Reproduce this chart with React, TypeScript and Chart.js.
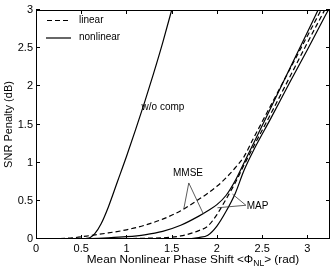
import React, { useEffect, useRef } from 'react';
import { Chart, registerables } from 'chart.js';
Chart.register(...registerables);

// ---- data ----
const xTicks = [0, 0.5, 1, 1.5, 2, 2.5, 3];
const xTickLabels = ['0', '0.5', '1', '1.5', '2', '2.5', '3'];
const yTicks = [0, 0.5, 1, 1.5, 2, 2.5, 3];
const yTickLabels = ['0', '0.5', '1', '1.5', '2', '2.5', '3'];

const woCompX = [0, 0.2, 0.4, 0.5, 0.55, 0.6, 0.65, 0.72, 0.8, 0.9, 1.0, 1.1, 1.2, 1.3, 1.4, 1.5];
const woCompY = [0, 0, 0, 0.003, 0.006, 0.02, 0.07, 0.2, 0.42, 0.75, 1.08, 1.43, 1.79, 2.17, 2.57, 3.0];

const compX = [0, 0.2, 0.4, 0.6, 0.8, 1.0, 1.2, 1.4, 1.6, 1.8, 1.9, 2.0, 2.1, 2.2, 2.3, 2.4, 2.6, 2.8, 3.0, 3.2, 3.3];
const mmseLinear = [0, 0.003, 0.015, 0.045, 0.08, 0.12, 0.18, 0.26, 0.37, 0.52, 0.6, 0.69, 0.8, 0.93, 1.08, 1.31, 1.76, 2.21, 2.66, 3.11, 3.34];
const mmseNonlinear = [0, 0, 0.002, 0.005, 0.015, 0.03, 0.055, 0.1, 0.18, 0.3, 0.37, 0.45, 0.57, 0.76, 1.0, 1.24, 1.73, 2.22, 2.71, 3.2, 3.44];
const mapLinear = [0, 0, 0.002, 0.003, 0.004, 0.005, 0.01, 0.015, 0.04, 0.11, 0.17, 0.32, 0.52, 0.73, 0.97, 1.2, 1.65, 2.11, 2.57, 3.02, 3.25];
const mapNonlinear = [0, 0, 0, 0, 0, 0, 0, 0, 0, 0.02, 0.05, 0.17, 0.36, 0.59, 0.9, 1.15, 1.59, 2.04, 2.48, 2.93, 3.15];

const legendLabels = ['linear', 'nonlinear'];
const yTitle = 'SNR Penalty (dB)';
const xTitleParts = ['Mean Nonlinear Phase Shift <\u03A6', 'NL', '> (rad)'];

// annotations in data coordinates
const woCompLabel = { text: 'w/o comp', x: 1.167, y: 1.73 };
const mmseLabel = { text: 'MMSE', x: 1.68, y: 0.865 };
const mmsePointer = { from: [1.689, 0.734], to: [[1.634, 0.396], [1.851, 0.326]] };
const mapLabel = { text: 'MAP', x: 2.33, y: 0.43 };
const mapPointer = { from: [2.32, 0.442], to: [[2.172, 0.588], [2.006, 0.409]] };

const FONT = '"Liberation Sans", Arial, Helvetica, sans-serif';

const pts = (xs: number[], ys: number[]) => xs.map((x, i) => ({ x, y: ys[i] }));

const decor = {
  id: 'decor',
  afterDatasetsDraw(chart: any) {
    const { ctx, chartArea: a, scales } = chart;
    const sx = scales.x, sy = scales.y;
    ctx.save();
    ctx.strokeStyle = '#000';
    ctx.fillStyle = '#000';
    ctx.lineWidth = 1;
    // box
    ctx.strokeRect(a.left + 0.5, a.top + 0.5, a.right - a.left - 1, a.bottom - a.top - 1);
    // inward ticks
    const tl = 4;
    ctx.beginPath();
    xTicks.forEach((v) => {
      const px = Math.round(sx.getPixelForValue(v)) + 0.5;
      ctx.moveTo(px, a.bottom); ctx.lineTo(px, a.bottom - tl);
      ctx.moveTo(px, a.top); ctx.lineTo(px, a.top + tl);
    });
    yTicks.forEach((v) => {
      const py = Math.round(sy.getPixelForValue(v)) - 0.5;
      ctx.moveTo(a.left, py); ctx.lineTo(a.left + tl, py);
      ctx.moveTo(a.right, py); ctx.lineTo(a.right - tl, py);
    });
    ctx.stroke();

    // legend
    ctx.font = `10px ${FONT}`;
    ctx.textBaseline = 'middle';
    ctx.lineWidth = 1.2;
    ctx.setLineDash([5, 3]);
    ctx.beginPath(); ctx.moveTo(a.left + 11, 20.5); ctx.lineTo(a.left + 33, 20.5); ctx.stroke();
    ctx.setLineDash([]);
    ctx.beginPath(); ctx.moveTo(a.left + 10, 38); ctx.lineTo(a.left + 35, 38); ctx.stroke();
    ctx.fillText(legendLabels[0], a.left + 43, 20);
    ctx.fillText(legendLabels[1], a.left + 43, 37.5);

    // annotations
    ctx.lineWidth = 0.8;
    ctx.strokeStyle = '#333';
    ctx.fillText(woCompLabel.text, sx.getPixelForValue(woCompLabel.x), sy.getPixelForValue(woCompLabel.y));
    ctx.textAlign = 'center';
    ctx.fillText(mmseLabel.text, sx.getPixelForValue(mmseLabel.x), sy.getPixelForValue(mmseLabel.y));
    ctx.textAlign = 'left';
    ctx.fillText(mapLabel.text, sx.getPixelForValue(mapLabel.x), sy.getPixelForValue(mapLabel.y));
    [mmsePointer, mapPointer].forEach((p) => {
      ctx.beginPath();
      p.to.forEach((t) => {
        ctx.moveTo(sx.getPixelForValue(p.from[0]), sy.getPixelForValue(p.from[1]));
        ctx.lineTo(sx.getPixelForValue(t[0]), sy.getPixelForValue(t[1]));
      });
      ctx.stroke();
    });

    // x title with subscript
    ctx.fillStyle = '#000';
    ctx.textBaseline = 'alphabetic';
    const big = `11.8px ${FONT}`;
    const small = `8.5px ${FONT}`;
    ctx.font = big;
    const w0 = ctx.measureText(xTitleParts[0]).width;
    const w2 = ctx.measureText(xTitleParts[2]).width;
    ctx.font = small;
    const w1 = ctx.measureText(xTitleParts[1]).width;
    const total = w0 + w1 + w2;
    const cx = 193;
    const x0 = cx - total / 2;
    const base = 263;
    ctx.font = big;
    ctx.fillText(xTitleParts[0], x0, base);
    ctx.font = small;
    ctx.fillText(xTitleParts[1], x0 + w0, base + 3);
    ctx.font = big;
    ctx.fillText(xTitleParts[2], x0 + w0 + w1, base);
    ctx.restore();
  },
};

export default function App() {
  const ref = useRef<HTMLCanvasElement | null>(null);
  useEffect(() => {
    if (!ref.current) return;
    const line = (data: any, dashed: boolean) => ({
      data,
      borderColor: '#000',
      backgroundColor: '#000',
      borderWidth: 1.2,
      borderDash: dashed ? [5, 3] : [],
      pointRadius: 0,
      fill: false,
      cubicInterpolationMode: 'monotone' as const,
    });
    const chart = new Chart(ref.current, {
      type: 'line',
      data: {
        datasets: [
          { label: 'w/o comp', ...line(pts(woCompX, woCompY), false) },
          { label: 'MMSE linear', ...line(pts(compX, mmseLinear), true) },
          { label: 'MMSE nonlinear', ...line(pts(compX, mmseNonlinear), false) },
          { label: 'MAP linear', ...line(pts(compX, mapLinear), true) },
          { label: 'MAP nonlinear', ...line(pts(compX, mapNonlinear), false) },
        ],
      },
      options: {
        animation: false,
        responsive: false,
        devicePixelRatio: 1,
        layout: { padding: { top: 10, right: 2, left: 0, bottom: 0 } },
        plugins: { legend: { display: false }, tooltip: { enabled: false } },
        scales: {
          x: {
            type: 'linear',
            min: 0,
            max: 3.25,
            grid: { display: false, drawTicks: false },
            border: { display: false },
            afterBuildTicks: (s: any) => { s.ticks = xTicks.map((v) => ({ value: v })); },
            afterFit: (s: any) => { s.height = 32; },
            ticks: {
              padding: 3,
              color: '#000',
              font: { family: FONT, size: 11 },
              maxRotation: 0,
              autoSkip: false,
              callback: (_v: any, i: number) => xTickLabels[i],
            },
          },
          y: {
            type: 'linear',
            min: 0,
            max: 3,
            grid: { display: false, drawTicks: false },
            border: { display: false },
            afterBuildTicks: (s: any) => { s.ticks = yTicks.map((v) => ({ value: v })); },
            afterFit: (s: any) => { s.width = 36; },
            title: { display: true, text: yTitle, color: '#000', font: { family: FONT, size: 11 }, padding: { top: 2, bottom: 0 } },
            ticks: {
              padding: 3,
              color: '#000',
              font: { family: FONT, size: 11 },
              autoSkip: false,
              callback: (_v: any, i: number) => yTickLabels[i],
            },
          },
        },
      },
      plugins: [decor],
    });
    return () => chart.destroy();
  }, []);
  return (
    <div style={{ position: 'fixed', left: 0, top: 0, width: 332, height: 271, background: '#fff' }}>
      <canvas ref={ref} width={332} height={271} style={{ display: 'block' }} />
    </div>
  );
}
